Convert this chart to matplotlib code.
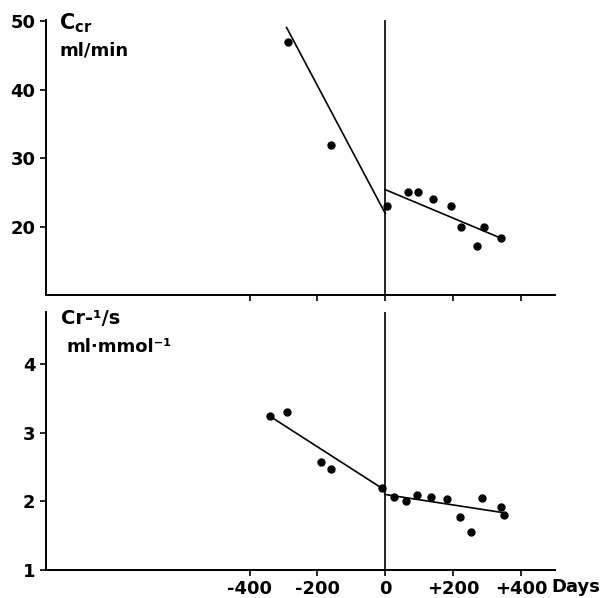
import numpy as np
import matplotlib
matplotlib.use("Agg")
import matplotlib.pyplot as plt

# creatinine clearance (ml/min)
ccr_days = [-288, -160, 5, 66, 97, 140, 194, 223, 270, 290, 341]
ccr_vals = [47.0, 32.0, 23.0, 25.0, 25.0, 24.0, 23.0, 20.0, 17.1, 19.9, 18.3]
ccr_pre_x, ccr_pre_y = [-291, 0], [49.1, 21.9]
ccr_post_x, ccr_post_y = [0, 341], [25.4, 18.3]

# reciprocal creatinine
rcr_days = [-340, -291, -189, -160, -9, 27, 60, 93, 134, 182, 221, 252, 285, 342, 349]
rcr_vals = [3.24, 3.30, 2.58, 2.47, 2.19, 2.06, 2.00, 2.09, 2.07, 2.04, 1.77, 1.56, 2.05, 1.92, 1.80]
rcr_pre_x, rcr_pre_y = [-340, 0], [3.24, 2.16]
rcr_post_x, rcr_post_y = [0, 342], [2.10, 1.84]

x_ticks = [-400, -200, 0, 200, 400]
x_labels = ["-400", "-200", "0", "+200", "+400"]

plt.rcParams['font.family'] = ['DejaVu Sans']
plt.rcParams['font.weight'] = 'bold'

fig = plt.figure(figsize=(6.08, 5.98), dpi=100)
W, H = 608, 598
ax1 = fig.add_axes([46 / W, 1 - 295 / H, 509 / W, 275 / H])
ax2 = fig.add_axes([46 / W, 1 - 570 / H, 509 / W, 258 / H])

for ax in (ax1, ax2):
    for s in ("top", "right"):
        ax.spines[s].set_visible(False)
    for s in ("left", "bottom"):
        ax.spines[s].set_linewidth(1.4)
    ax.set_xlim(-1000, 500)
    ax.set_xticks(x_ticks)
    ax.tick_params(direction="out", length=4, width=1.2, labelsize=13)
    ax.axvline(0, color="black", lw=1.2)

ax1.set_ylim(10, 50.2)
ax1.set_yticks([20, 30, 40, 50])
ax1.set_xticklabels([])
ax1.plot(ccr_days, ccr_vals, "o", color="black", ms=5)
ax1.plot(ccr_pre_x, ccr_pre_y, color="black", lw=1.2)
ax1.plot(ccr_post_x, ccr_post_y, color="black", lw=1.2)
ax1.text(0.026, 0.965, r"C$_{\mathbf{cr}}$", transform=ax1.transAxes, fontsize=15,
         fontweight="bold", va="baseline")
ax1.text(0.026, 0.87, "ml/min", transform=ax1.transAxes, fontsize=13,
         fontweight="bold", va="baseline")

ax2.set_ylim(1, 4.76)
ax2.set_yticks([1, 2, 3, 4])
ax2.set_xticklabels(x_labels)
ax2.plot(rcr_days, rcr_vals, "o", color="black", ms=5)
ax2.plot(rcr_pre_x, rcr_pre_y, color="black", lw=1.2)
ax2.plot(rcr_post_x, rcr_post_y, color="black", lw=1.2)
ax2.text(0.03, 0.955, "Cr-¹/s", transform=ax2.transAxes, fontsize=14,
         fontweight="bold", va="baseline")
ax2.text(0.04, 0.845, "ml·mmol⁻¹", transform=ax2.transAxes, fontsize=13,
         fontweight="bold", va="baseline")
ax2.text(0.992, -0.03, "Days", transform=ax2.transAxes, fontsize=13,
         fontweight="bold", va="top", ha="left")

fig.savefig("out.png", dpi=100)
